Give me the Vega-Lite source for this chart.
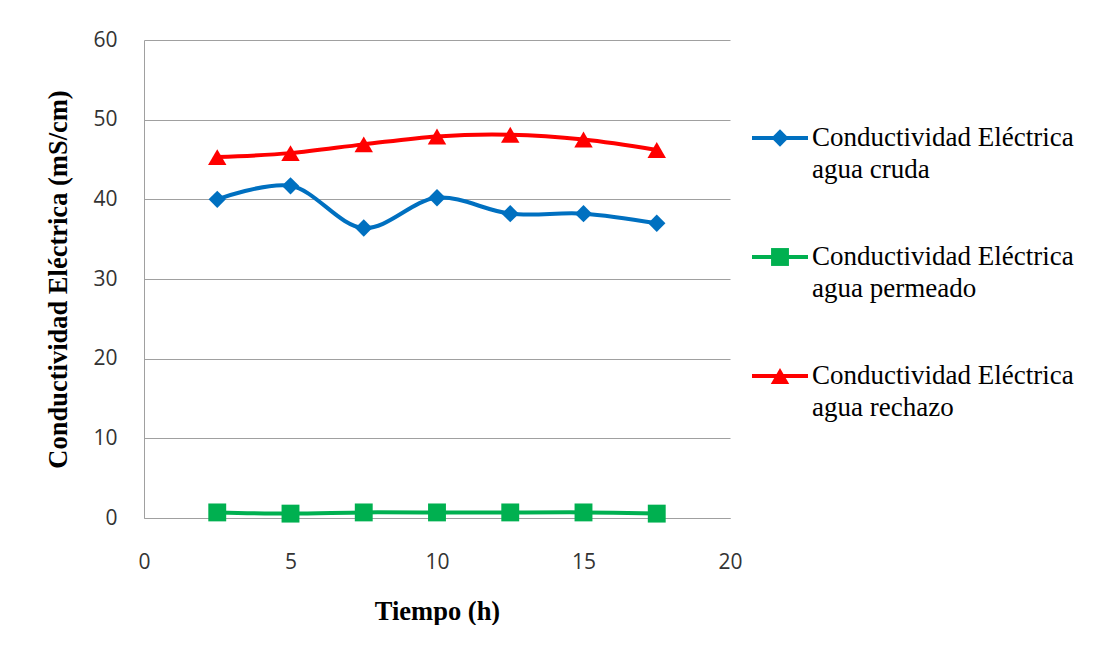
{
  "$schema": "https://vega.github.io/schema/vega-lite/v6.json",
  "padding": {"left": 45, "top": 29, "right": 0, "bottom": 0},
  "background": "white",
  "spacing": 7,
  "datasets": {
    "series": [
      {"t": 2.5, "v": 40.0, "s": "cruda"},
      {"t": 5, "v": 41.7, "s": "cruda"},
      {"t": 7.5, "v": 36.4, "s": "cruda"},
      {"t": 10, "v": 40.2, "s": "cruda"},
      {"t": 12.5, "v": 38.2, "s": "cruda"},
      {"t": 15, "v": 38.2, "s": "cruda"},
      {"t": 17.5, "v": 37.0, "s": "cruda"},
      {"t": 2.5, "v": 0.7, "s": "permeado"},
      {"t": 5, "v": 0.55, "s": "permeado"},
      {"t": 7.5, "v": 0.7, "s": "permeado"},
      {"t": 10, "v": 0.7, "s": "permeado"},
      {"t": 12.5, "v": 0.7, "s": "permeado"},
      {"t": 15, "v": 0.7, "s": "permeado"},
      {"t": 17.5, "v": 0.55, "s": "permeado"},
      {"t": 2.5, "v": 45.3, "s": "rechazo"},
      {"t": 5, "v": 45.8, "s": "rechazo"},
      {"t": 7.5, "v": 46.9, "s": "rechazo"},
      {"t": 10, "v": 47.9, "s": "rechazo"},
      {"t": 12.5, "v": 48.1, "s": "rechazo"},
      {"t": 15, "v": 47.5, "s": "rechazo"},
      {"t": 17.5, "v": 46.2, "s": "rechazo"}
    ],
    "legend": [
      {"s": "cruda", "order": 1, "label": "Conductividad Eléctrica|agua cruda"},
      {"s": "permeado", "order": 2, "label": "Conductividad Eléctrica|agua permeado"},
      {"s": "rechazo", "order": 3, "label": "Conductividad Eléctrica|agua rechazo"}
    ]
  },
  "hconcat": [
    {
      "width": 586,
      "height": 478,
      "data": {"name": "series"},
      "encoding": {
        "x": {
          "field": "t", "type": "quantitative",
          "scale": {"domain": [0, 20], "nice": false},
          "axis": {
            "values": [0, 5, 10, 15, 20], "grid": false, "ticks": false, "labelFlush": false,
            "domainColor": "#a0a0a0", "labelFont": "Open Sans", "labelFontSize": 21,
            "labelColor": "#333333", "labelPadding": 33,
            "title": "Tiempo (h)", "titleFont": "Liberation Serif", "titleFontSize": 26.5,
            "titleFontWeight": "bold", "titleColor": "black", "titlePadding": 26
          }
        },
        "y": {
          "field": "v", "type": "quantitative",
          "scale": {"domain": [0, 60], "nice": false},
          "axis": {
            "values": [0, 10, 20, 30, 40, 50, 60], "grid": true, "gridColor": "#a0a0a0",
            "ticks": false, "domainColor": "#a0a0a0", "labelFont": "Open Sans",
            "labelFontSize": 21, "labelColor": "#333333", "labelPadding": 27,
            "title": "Conductividad Eléctrica (mS/cm)", "titleFont": "Liberation Serif",
            "titleFontSize": 26.5, "titleFontWeight": "bold", "titleColor": "black",
            "titlePadding": 20
          }
        },
        "color": {
          "field": "s", "type": "nominal",
          "scale": {"domain": ["cruda", "permeado", "rechazo"], "range": ["#0070C0", "#00B050", "#FF0000"]},
          "legend": null
        }
      },
      "layer": [
        {"mark": {"type": "line", "interpolate": "catmull-rom", "strokeWidth": 4}},
        {
          "mark": {"type": "point", "filled": true, "opacity": 1},
          "encoding": {
            "shape": {
              "field": "s", "type": "nominal",
              "scale": {"domain": ["cruda", "permeado", "rechazo"], "range": ["diamond", "square", "triangle-up"]},
              "legend": null
            },
            "size": {
              "field": "s", "type": "nominal",
              "scale": {"domain": ["cruda", "permeado", "rechazo"], "range": [300, 340, 320]},
              "legend": null
            }
          }
        }
      ]
    },
    {
      "width": 345,
      "height": 478,
      "data": {"name": "legend"},
      "encoding": {
        "y": {"field": "order", "type": "quantitative", "scale": {"domain": [0.1765, 4.1933], "reverse": true, "nice": false, "zero": false}, "axis": null},
        "color": {
          "field": "s", "type": "nominal",
          "scale": {"domain": ["cruda", "permeado", "rechazo"], "range": ["#0070C0", "#00B050", "#FF0000"]},
          "legend": null
        }
      },
      "layer": [
        {
          "mark": {"type": "rule", "strokeWidth": 4},
          "encoding": {
            "x": {"datum": 0, "type": "quantitative", "scale": {"domain": [0, 345], "nice": false}, "axis": null},
            "x2": {"datum": 56}
          }
        },
        {
          "mark": {"type": "point", "filled": true, "opacity": 1},
          "encoding": {
            "x": {"datum": 28, "type": "quantitative"},
            "shape": {
              "field": "s", "type": "nominal",
              "scale": {"domain": ["cruda", "permeado", "rechazo"], "range": ["diamond", "square", "triangle-up"]},
              "legend": null
            },
            "size": {
              "field": "s", "type": "nominal",
              "scale": {"domain": ["cruda", "permeado", "rechazo"], "range": [200, 260, 240]},
              "legend": null
            }
          }
        },
        {
          "mark": {"type": "text", "align": "left", "baseline": "middle", "lineBreak": "|", "lineHeight": 32, "font": "Liberation Serif", "fontSize": 27, "color": "black"},
          "encoding": {
            "x": {"datum": 60, "type": "quantitative"},
            "text": {"field": "label"},
            "color": {"value": "black"}
          }
        }
      ]
    }
  ],
  "config": {"view": {"stroke": null}}
}
